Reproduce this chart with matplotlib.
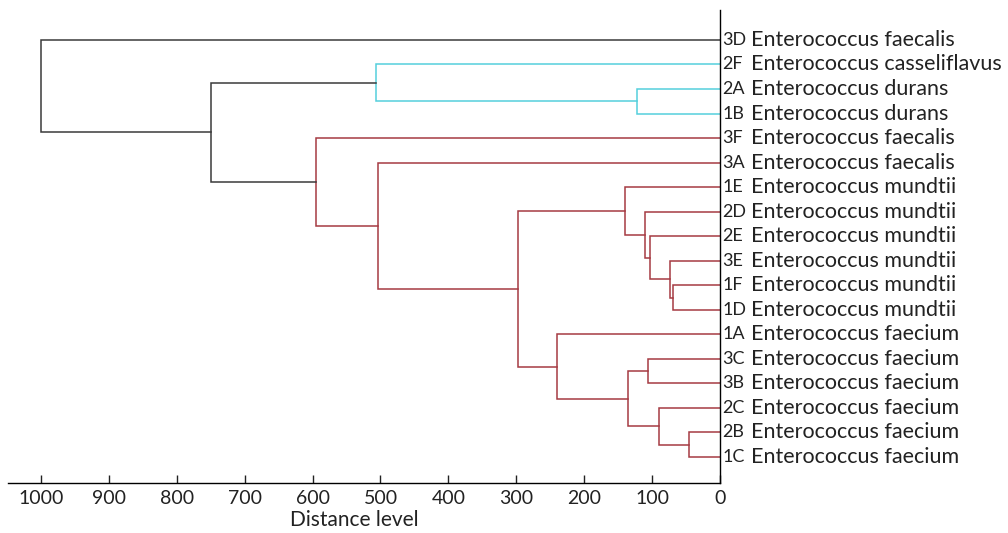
# Dendrogram of Enterococcus isolates, drawn by hand from a linkage list
import matplotlib.pyplot as plt

plt.rcParams["font.family"] = ["Lato", "DejaVu Sans"]

# leaves from top to bottom
leaf_codes = ["3D", "2F", "2A", "1B", "3F", "3A", "1E", "2D", "2E", "3E",
              "1F", "1D", "1A", "3C", "3B", "2C", "2B", "1C"]
leaf_species = [
    "Enterococcus faecalis", "Enterococcus casseliflavus", "Enterococcus durans",
    "Enterococcus durans", "Enterococcus faecalis", "Enterococcus faecalis",
    "Enterococcus mundtii", "Enterococcus mundtii", "Enterococcus mundtii",
    "Enterococcus mundtii", "Enterococcus mundtii", "Enterococcus mundtii",
    "Enterococcus faecium", "Enterococcus faecium", "Enterococcus faecium",
    "Enterococcus faecium", "Enterococcus faecium", "Enterococcus faecium",
]

# merges: new cluster ids start at len(leaves), scipy style
merge_left = [10, 16, 9, 15, 8, 13, 7, 2, 23, 6, 12, 27, 5, 1, 4, 31, 0]
merge_right = [11, 17, 18, 19, 20, 14, 22, 3, 21, 24, 26, 28, 29, 25, 30, 32, 33]
merge_height = [69, 46, 74, 90, 103, 106, 110, 122, 136, 140, 240, 297, 504, 507,
                595, 750, 1000]
merge_group = ["red", "red", "red", "red", "red", "red", "red", "cyan", "red",
               "red", "red", "red", "red", "cyan", "red", "root", "root"]

group_colors = {"red": "#a63b42", "cyan": "#55cfdc", "root": "#3a3a3a"}

n = len(leaf_codes)
pos = {i: (float(i), 0.0) for i in range(n)}  # node -> (y, height)

fig = plt.figure(figsize=(10.08, 5.33), dpi=100)
ax = fig.add_axes([8 / 1008, 50 / 533, 712 / 1008, 473 / 533])

for k, (a, b, h, g) in enumerate(zip(merge_left, merge_right, merge_height, merge_group)):
    ya, ha = pos[a]
    yb, hb = pos[b]
    ax.plot([ha, h, h, hb], [ya, ya, yb, yb], color=group_colors[g], lw=1.1,
            solid_joinstyle="miter")
    pos[n + k] = ((ya + yb) / 2, h)

ax.set_xlim(1048.6, 0)
ax.set_ylim(n - 1 + 1.06, -1.22)

for s in ["top", "left"]:
    ax.spines[s].set_visible(False)
for s in ["bottom", "right"]:
    ax.spines[s].set_linewidth(1.0)
    ax.spines[s].set_color("black")

ax.set_yticks([])
ax.set_xticks(range(0, 1001, 100))
ax.tick_params(axis="x", direction="in", length=6, width=1.0, labelsize=14,
               pad=5, colors="#222222")
ax.set_xlabel("Distance level", fontsize=15, color="#222222", va="top")
ax.xaxis.set_label_coords(0.486, -0.058)

for i, (code, sp) in enumerate(zip(leaf_codes, leaf_species)):
    ax.annotate(code, xy=(0, i), xytext=(1.5, 0), textcoords="offset points",
                ha="left", va="center", fontsize=13, color="#222222",
                annotation_clip=False)
    ax.annotate(sp, xy=(0, i), xytext=(22.5, 0), textcoords="offset points",
                ha="left", va="center", fontsize=15.5, color="#222222",
                annotation_clip=False)

fig.savefig("out.png", dpi=100)
